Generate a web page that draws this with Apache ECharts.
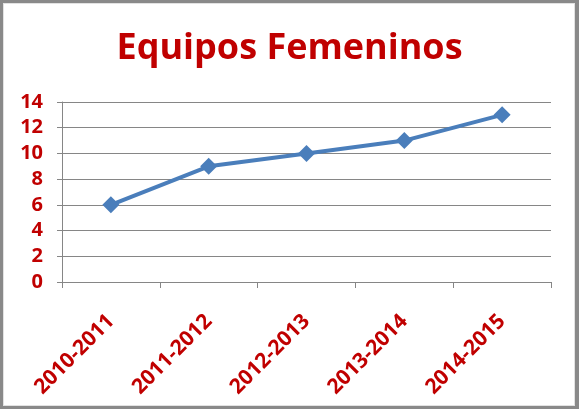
<!DOCTYPE html>
<html>
<head>
<meta charset="utf-8">
<script src="https://cdn.jsdelivr.net/npm/echarts@6/dist/echarts.min.js"></script>
<style>
html,body{margin:0;padding:0;background:#898989;}
#frame{position:absolute;left:3px;top:3px;width:572px;height:403px;background:#fff;box-sizing:border-box;border:1px solid #e2e2e2;}
#chart{position:absolute;left:0;top:0;width:579px;height:409px;}
</style>
</head>
<body>
<div id="frame"></div>
<div id="chart"></div>
<script>
const title = 'Equipos Femeninos';
const categories = ['2010-2011', '2011-2012', '2012-2013', '2013-2014', '2014-2015'];
const values = [6, 9, 10, 11, 13];
const yMin = 0, yMax = 14, yStep = 2;

const red = '#C00000';
const chart = echarts.init(document.getElementById('chart'), null, {renderer: 'canvas'});
chart.setOption({
  animation: false,
  backgroundColor: 'transparent',
  title: {
    text: title,
    left: 'center',
    top: 26,
    textStyle: {color: red, fontFamily: 'Open Sans', fontWeight: 'bold', fontSize: 36}
  },
  grid: {left: 62, right: 28, top: 102, bottom: 127},
  xAxis: {
    type: 'category',
    data: categories,
    boundaryGap: true,
    axisLine: {lineStyle: {color: '#868686', width: 1}},
    axisTick: {show: true, length: 6, lineStyle: {color: '#868686'}, alignWithLabel: false},
    axisLabel: {rotate: 45, color: red, fontFamily: 'Open Sans', fontWeight: 'bold', fontSize: 21, margin: 36, interval: 0}
  },
  yAxis: {
    type: 'value',
    min: yMin, max: yMax, interval: yStep,
    axisLine: {show: true, lineStyle: {color: '#868686', width: 1}},
    axisTick: {show: true, length: 5, lineStyle: {color: '#868686'}},
    splitLine: {show: true, lineStyle: {color: '#868686', width: 1}},
    axisLabel: {color: red, fontFamily: 'Open Sans', fontWeight: 'bold', fontSize: 20, margin: 19}
  },
  series: [{
    type: 'line',
    data: values,
    symbol: 'diamond',
    symbolSize: 17,
    lineStyle: {color: '#4A7EBB', width: 4},
    itemStyle: {color: '#4A7EBB'}
  }]
});
</script>
</body>
</html>
